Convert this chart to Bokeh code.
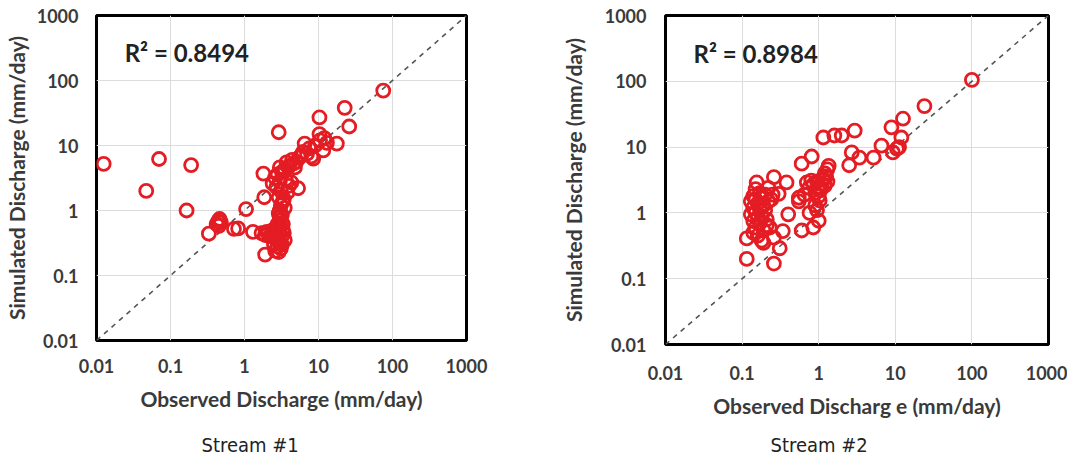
from bokeh.plotting import figure
from bokeh.layouts import row
from bokeh.models import FixedTicker, CustomJSTickFormatter, Label, Title
from bokeh.embed import file_html
from bokeh.resources import INLINE

# ---- data ----
decade_ticks = [0.01, 0.1, 1, 10, 100, 1000]
axis_lo, axis_hi = 0.01, 1000

obs1 = [0.0125, 0.047, 0.07, 0.19, 0.165, 0.33,
        0.42, 0.44, 0.46, 0.48, 0.45,
        0.72, 0.82, 1.05, 1.3,
        1.8, 1.85, 1.9, 2.9,
        10.3, 22.6, 26, 10.3, 17.7, 6.5, 11.6, 8.5, 5.5, 4.6, 3.7, 3.0, 2.4, 4.3, 5.3, 3.3, 3.0, 75,
        2.6, 2.8, 3.2, 3.5, 4.0, 4.4, 5.0, 5.8, 6.2, 7.0, 7.5, 9.0, 10.5, 12, 13, 8.0, 4.8, 3.6, 3.0, 2.7, 3.1, 4.0, 3.8,
        2.9, 3.1, 3.0, 2.9, 3.2, 3.0, 2.8, 3.1, 3.3, 3.0, 2.7, 3.2, 2.9, 3.0, 2.8, 3.1, 2.9, 3.2, 3.4, 3.3, 3.5, 3.4,
        1.7, 1.9, 2.1, 2.3, 2.5, 2.2, 2.6, 2.4, 2.0,
        2.6, 2.5, 3.5]
sim1 = [5.2, 2.0, 6.2, 5.0, 1.0, 0.44,
        0.62, 0.68, 0.74, 0.66, 0.58,
        0.52, 0.53, 1.05, 0.47,
        3.7, 1.6, 0.21, 16,
        27, 38, 19.6, 15, 10.7, 10.7, 8.4, 6.3, 6.5, 5.3, 5.5, 4.6, 2.6, 2.7, 2.2, 1.4, 0.79, 70,
        3.2, 3.6, 3.9, 4.3, 4.8, 6.0, 5.6, 7.0, 8.0, 7.5, 9.0, 10.0, 12, 13, 11, 6.8, 4.6, 3.0, 2.8, 2.3, 2.0, 2.4, 1.9,
        1.6, 1.2, 1.0, 0.9, 0.85, 0.7, 0.62, 0.58, 0.5, 0.46, 0.42, 0.4, 0.36, 0.32, 0.28, 0.26, 0.23, 0.3, 0.45, 0.62, 1.1, 1.5,
        0.45, 0.42, 0.45, 0.43, 0.46, 0.40, 0.38, 0.5, 0.47,
        0.24, 0.3, 0.35]

obs2 = [100, 24, 12.6, 8.9, 12, 11.2, 9.3, 10.5, 5.2, 6.6, 3.4, 2.7, 2.5, 2.95, 2.0, 1.6, 1.15, 0.81, 0.6,
        0.115, 0.115, 0.26, 0.31, 0.34, 0.4, 0.6, 0.76, 0.85, 1.0, 1.03, 0.55, 0.38, 0.26, 0.155, 0.18, 0.26, 0.23, 0.3,
        1.15, 1.2, 1.3, 1.35, 1.25, 1.1, 1.0, 0.95, 0.85, 0.8, 0.75, 0.7, 0.9, 1.05, 1.2, 1.3, 0.65, 0.55, 0.9, 1.0, 0.95,
        0.14, 0.15, 0.14, 0.16, 0.15, 0.14, 0.16, 0.15, 0.14, 0.17, 0.18, 0.19, 0.2, 0.18, 0.17, 0.19, 0.21, 0.22, 0.2,
        0.16, 0.15, 0.17, 0.13, 0.13, 0.24, 0.25, 0.21, 0.19, 0.22]
sim2 = [105, 42, 27, 20, 14, 10, 8.3, 9.5, 6.9, 10.5, 6.9, 8.3, 5.3, 17.8, 15, 15, 14, 7.2, 5.6,
        0.41, 0.2, 0.17, 0.29, 0.53, 0.95, 0.54, 1.0, 0.6, 0.76, 1.55, 1.7, 2.9, 3.5, 2.9, 0.38, 0.42, 0.6, 1.95,
        3.2, 4.0, 4.6, 5.2, 3.6, 2.8, 2.5, 3.0, 2.7, 3.1, 2.4, 2.9, 2.0, 2.2, 2.6, 3.0, 1.9, 1.5, 1.3, 1.8, 1.1,
        0.5, 0.6, 0.75, 0.85, 1.0, 1.2, 1.4, 1.6, 1.8, 2.0, 1.7, 1.3, 1.1, 0.9, 0.7, 0.55, 0.8, 1.5, 1.9,
        0.45, 2.3, 1.15, 0.95, 1.5, 1.6, 1.9, 0.65, 0.35, 2.4]

r2_texts = ["R\u00b2 = 0.8494", "R\u00b2 = 0.8984"]
captions = ["Stream  #1", "Stream  #2"]
x_title = ["Observed Discharge (mm/day)", "Observed Discharg e (mm/day)"]
y_title = "Simulated Discharge (mm/day)"

RED = "#e41c23"
TXT = "#3a3a3a"
FONT = "Lato"


def make(obs, sim, r2, r2x, r2y, cap, xt, fw, fh, bl, br, bt, bb,
         xstand, ystand, xlstand, ylstand, cap_stand, cap_off):
    p = figure(x_axis_type="log", y_axis_type="log",
               x_range=(axis_lo, axis_hi), y_range=(axis_lo, axis_hi),
               frame_width=fw, frame_height=fh,
               min_border_left=bl, min_border_right=br,
               min_border_top=bt, min_border_bottom=bb,
               output_backend="svg", toolbar_location=None)
    p.background_fill_color = "white"
    p.border_fill_color = "white"
    p.outline_line_color = "black"
    p.outline_line_width = 3
    fmt = CustomJSTickFormatter(code="return String(tick);")
    for ax in (p.xaxis[0], p.yaxis[0]):
        ax.ticker = FixedTicker(ticks=decade_ticks, minor_ticks=[])
        ax.formatter = fmt
        ax.axis_line_color = None
        ax.major_tick_line_color = None
        ax.minor_tick_line_color = None
        ax.major_tick_in = 0
        ax.major_tick_out = 0
        ax.minor_tick_in = 0
        ax.minor_tick_out = 0
        ax.major_label_text_font = FONT
        ax.major_label_text_font_style = "bold"
        ax.major_label_text_font_size = "18px"
        ax.major_label_text_color = TXT
        ax.axis_label_text_font = FONT
        ax.axis_label_text_font_style = "bold"
        ax.axis_label_text_font_size = "21px"
        ax.axis_label_text_color = TXT
    p.xaxis.axis_label = xt
    p.yaxis.axis_label = y_title
    p.xaxis.major_label_standoff = xstand
    p.yaxis.major_label_standoff = ystand
    p.xaxis.axis_label_standoff = xlstand
    p.yaxis.axis_label_standoff = ylstand
    p.grid.ticker = FixedTicker(ticks=decade_ticks)
    p.grid.grid_line_color = "#dcdcdc"
    p.grid.grid_line_width = 1
    p.grid.minor_grid_line_color = None

    p.line([axis_lo, axis_hi], [axis_lo, axis_hi], line_color="#555555",
           line_width=1.6, line_dash="5 5")
    p.scatter(obs, sim, marker="circle", size=13, fill_color=None,
              line_color=RED, line_width=2.8)
    p.add_layout(Label(x=r2x, y=r2y, text=r2, text_font=FONT, text_font_style="bold",
                       text_font_size="24px", text_color="#222222",
                       text_baseline="middle", text_align="left"))
    p.add_layout(Title(text=cap, align="left", offset=cap_off,
                       text_font="Liberation Sans Narrow, DejaVu Sans Condensed, sans-serif",
                       text_font_style="normal", text_font_size="20px", text_color="#222222",
                       standoff=cap_stand), "below")
    return p


p1 = make(obs1, sim1, r2_texts[0], 0.024, 269, captions[0], x_title[0],
          370, 325, 92, 70, 15, 105, 18, 18, 10, 5, 35, 105)
p2 = make(obs2, sim2, r2_texts[1], 0.0232, 263, captions[1], x_title[1],
          383, 329, 129, 19, 15, 101, 21, 19, 10, 16, 20, 105)

layout = row(p1, p2, spacing=0)
open("out.html", "w").write(file_html(layout, INLINE))
